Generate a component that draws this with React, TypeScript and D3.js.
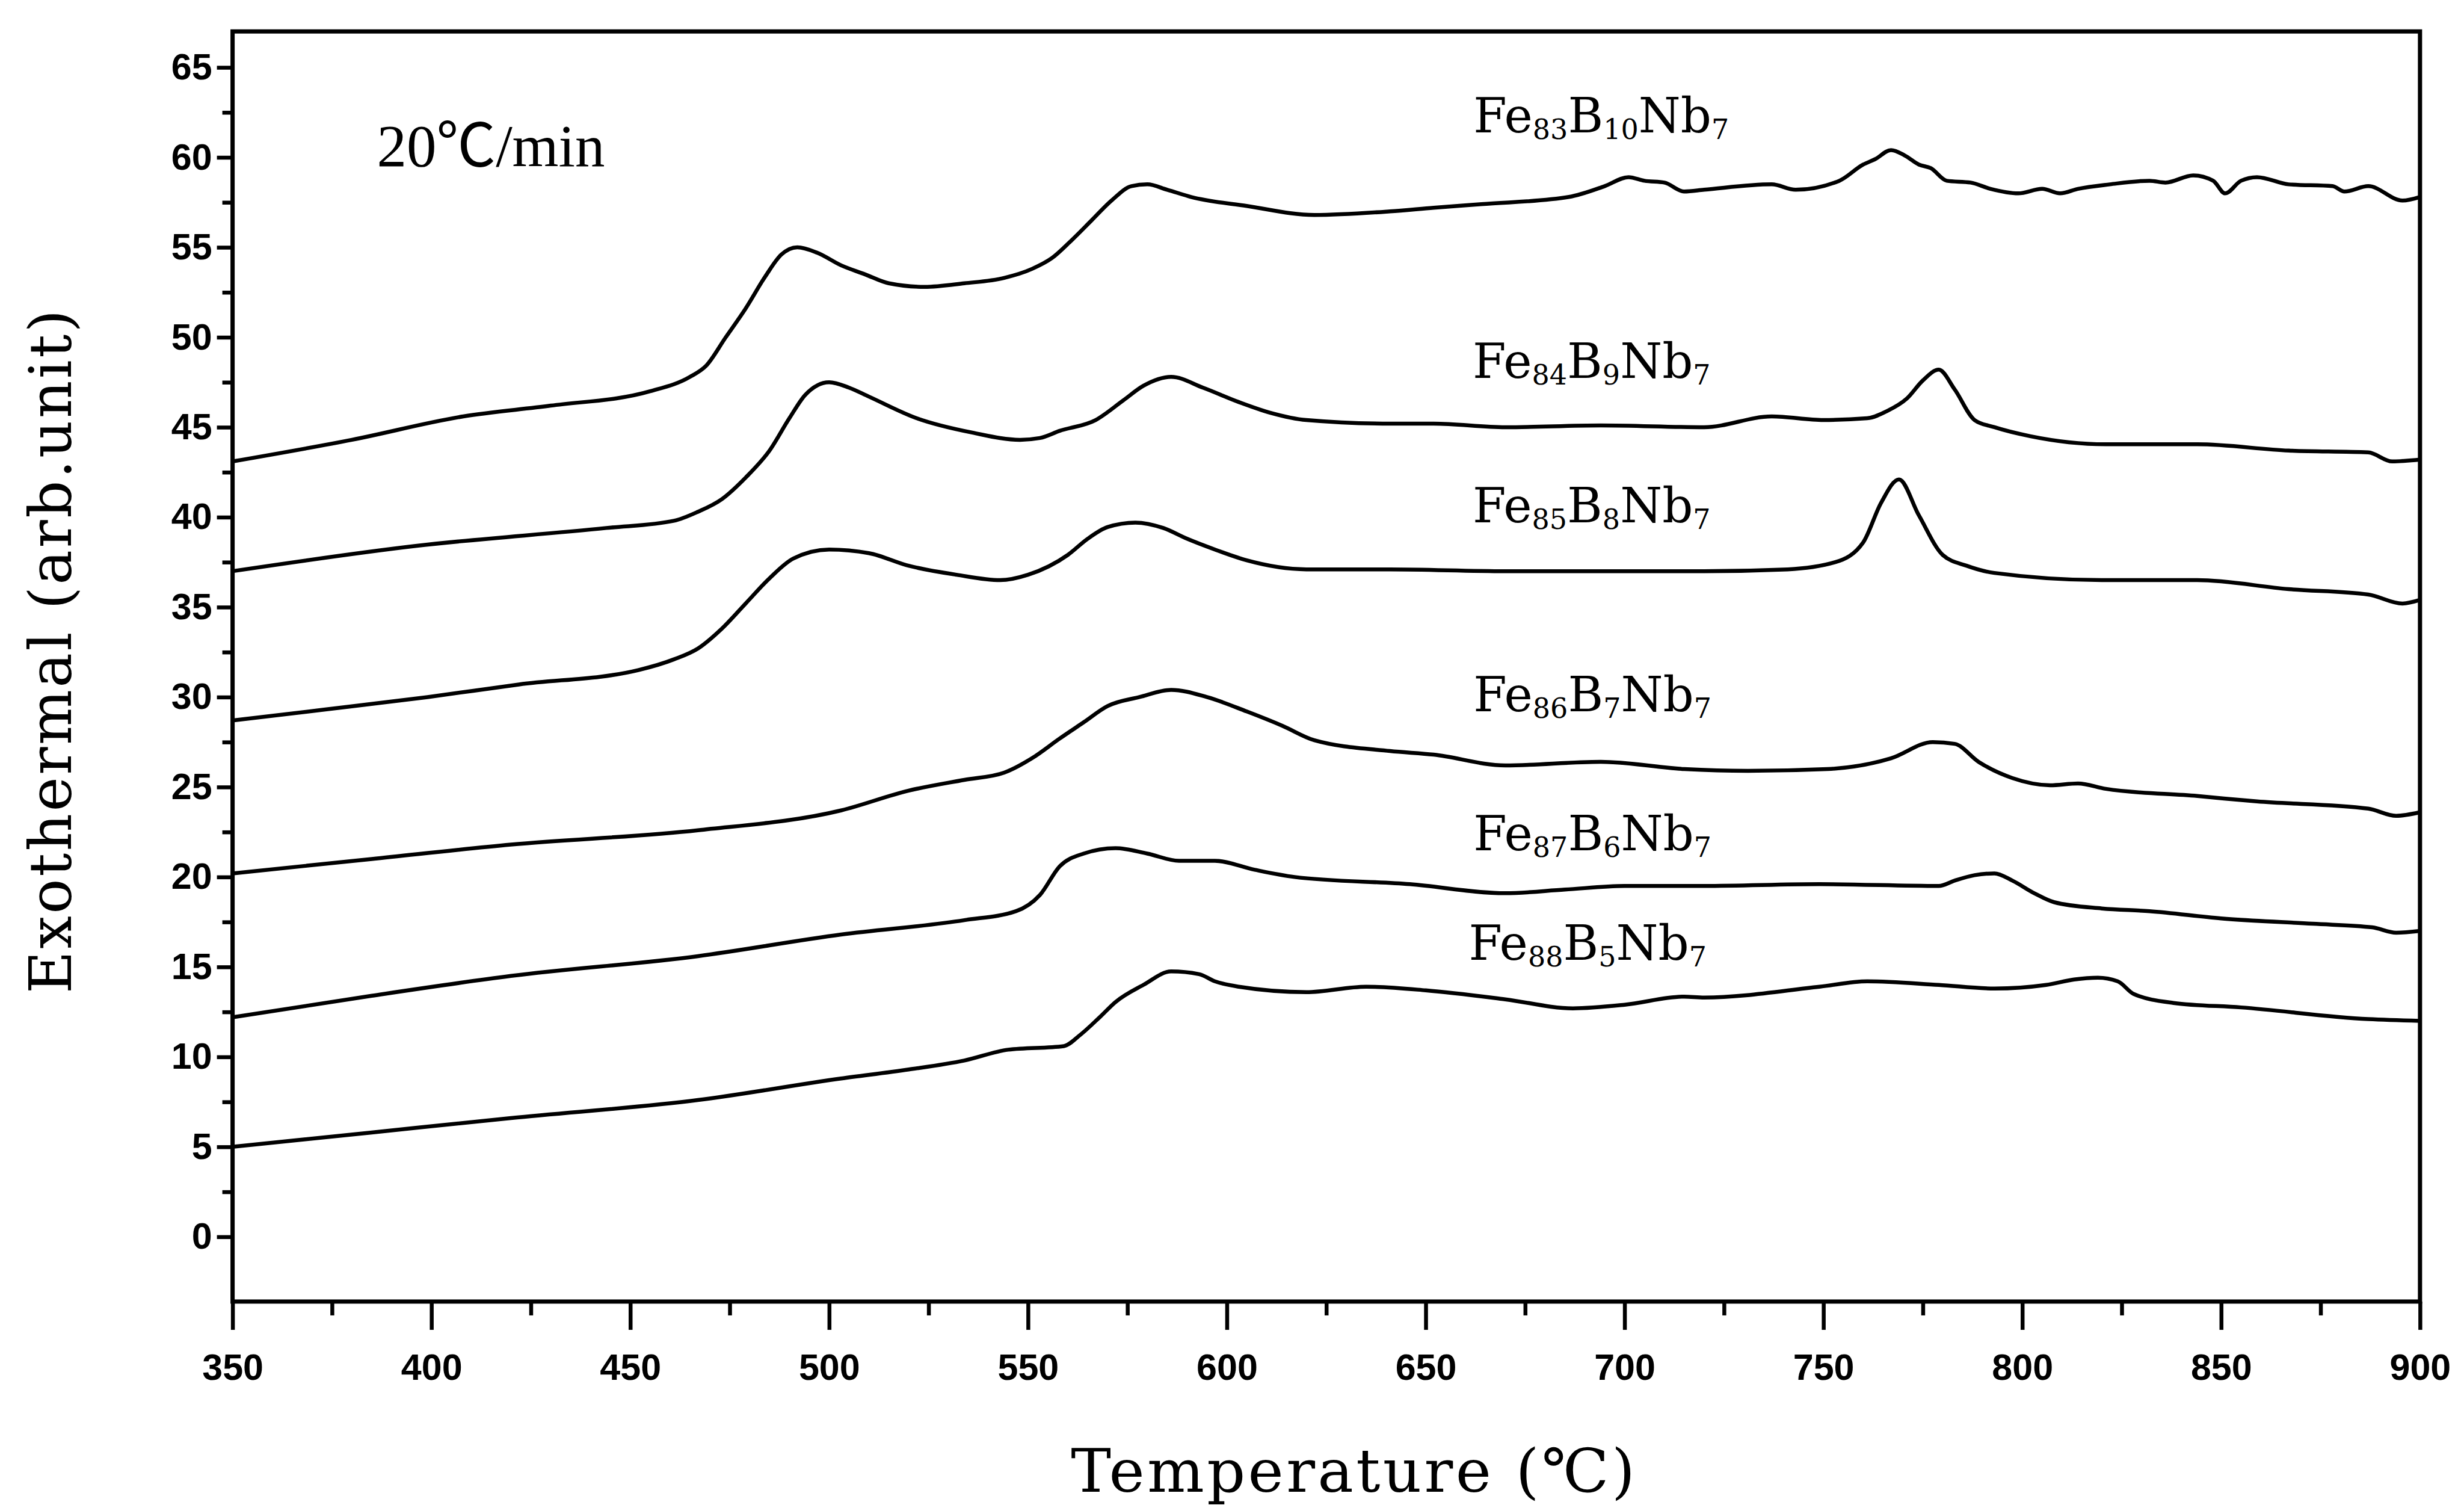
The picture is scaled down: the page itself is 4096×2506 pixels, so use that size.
import React, { useEffect, useRef } from 'react';
import * as d3 from 'd3';

// ---------- data (temperature °C, exothermal arb.unit) ----------
const fe83B10Nb7: [number, number][] = [
  [350, 43.1], [380, 44.3], [408, 45.6], [430, 46.2], [455, 47.0], [465, 47.8], [469, 48.4], [474, 50.0],
  [479, 51.6], [484, 53.4], [488, 54.6], [492, 55.0], [497, 54.7], [503, 54.0], [509, 53.5], [515, 53.0],
  [524, 52.8], [534, 53.0], [544, 53.3], [551, 53.8], [556, 54.4], [561, 55.4], [566, 56.5], [571, 57.6],
  [576, 58.4], [580, 58.5], [585, 58.2], [591, 57.8], [605, 57.3], [622, 56.8], [641, 57.0], [652, 57.2],
  [664, 57.4], [686, 57.8], [695, 58.4], [701, 58.9], [705, 58.7], [710, 58.6], [715, 58.1], [720, 58.2],
  [737, 58.5], [743, 58.2], [754, 58.7], [760, 59.6], [763, 59.9], [767, 60.4], [770.5, 60.1], [774, 59.6],
  [777, 59.4], [781, 58.7], [787, 58.6], [792, 58.25], [799, 58.0], [805, 58.25], [809.5, 58.0], [814, 58.25],
  [822, 58.5], [832, 58.7], [836, 58.6], [843, 59.0], [848, 58.7], [851, 58.0], [855, 58.7], [859, 58.9],
  [867, 58.5], [878, 58.4], [881, 58.1], [887, 58.4], [895.6, 57.6], [900, 57.8]
];
const fe84B9Nb7: [number, number][] = [
  [350, 37.0], [396, 38.4], [444, 39.4], [461, 39.8], [467, 40.3], [473, 41.0], [479, 42.2], [485, 43.7],
  [490, 45.5], [494, 46.8], [500, 47.5], [505, 47.2], [510, 46.7], [522, 45.5], [536, 44.7], [548, 44.3],
  [553, 44.4], [558, 44.8], [567, 45.4], [574, 46.5], [579, 47.3], [586, 47.8], [594, 47.2], [603, 46.4],
  [611, 45.8], [620, 45.4], [641, 45.2], [652, 45.2], [670, 45.0], [694, 45.1], [720, 45.0], [737, 45.6],
  [750, 45.4], [761, 45.5], [766, 45.9], [771, 46.6], [775, 47.6], [779, 48.2], [783, 47.1], [788, 45.4],
  [793, 45.0], [802, 44.5], [821, 44.05], [844, 44.05], [867, 43.7], [887, 43.6], [893, 43.1], [900, 43.2]
];
const fe85B8Nb7: [number, number][] = [
  [350, 28.7], [373, 29.3], [399, 30.0], [422, 30.7], [452, 31.5], [461, 32.1], [467, 32.7], [473, 33.8],
  [479, 35.2], [485, 36.6], [491, 37.7], [500, 38.2], [510, 38.0], [520, 37.3], [532, 36.8], [543, 36.5],
  [550, 36.8], [560, 37.9], [565, 38.8], [570, 39.45], [577, 39.7], [584, 39.4], [590, 38.8], [597, 38.2],
  [605, 37.6], [620, 37.1], [641, 37.1], [670, 37.0], [694, 37.0], [720, 37.0], [741, 37.1], [753, 37.5],
  [760, 38.6], [764.5, 40.8], [769, 42.1], [774, 40.1], [780, 37.9], [786, 37.3], [793, 36.9], [820, 36.5],
  [844, 36.5], [867, 36.0], [887, 35.7], [895.6, 35.2], [900, 35.4]
];
const fe86B7Nb7: [number, number][] = [
  [350, 20.2], [385, 21.0], [420, 21.8], [467, 22.6], [503, 23.7], [520, 24.8], [534, 25.4], [544, 25.8],
  [551, 26.6], [558, 27.7], [564, 28.6], [570, 29.5], [578, 30.0], [586, 30.4], [595, 30.0], [605, 29.2],
  [614, 28.4], [622, 27.6], [641, 27.0], [652, 26.8], [670, 26.2], [694, 26.4], [715, 26.0], [731, 25.9],
  [751, 26.0], [767, 26.6], [777.5, 27.5], [783, 27.4], [789, 26.4], [797.5, 25.5], [807, 25.1], [814, 25.2],
  [821, 24.9], [844, 24.5], [859, 24.2], [887, 23.8], [894, 23.4], [900, 23.6]
];
const fe87B6Nb7: [number, number][] = [
  [350, 12.2], [385, 13.4], [420, 14.5], [467, 15.6], [503, 16.8], [534, 17.6], [547, 18.1], [553, 19.0],
  [558, 20.6], [564, 21.3], [572, 21.6], [580, 21.3], [588, 20.9], [597, 20.9], [607, 20.4], [617, 20.0],
  [646, 19.6], [670, 19.1], [685, 19.3], [700, 19.5], [720, 19.5], [749, 19.6], [779, 19.5], [783, 19.8],
  [788, 20.1], [793, 20.2], [797.5, 19.8], [803, 19.1], [808, 18.6], [820, 18.25], [832, 18.1], [850, 17.7],
  [873, 17.4], [888, 17.2], [894, 16.9], [900, 17.0]
];
const fe88B5Nb7: [number, number][] = [
  [350, 5.0], [385, 5.8], [420, 6.6], [467, 7.6], [503, 8.8], [520, 9.3], [534, 9.8], [545, 10.4],
  [559, 10.6], [563, 11.2], [568, 12.2], [572, 13.05], [579, 14.0], [586, 14.75], [593, 14.6], [597, 14.2],
  [603, 13.9], [620, 13.6], [635, 13.9], [650, 13.7], [670, 13.2], [687, 12.7], [700, 12.9], [715, 13.35],
  [720, 13.3], [749, 13.9], [761, 14.2], [779, 14.0], [793, 13.8], [806, 14.0], [813, 14.3], [819, 14.4],
  [824, 14.2], [828, 13.5], [838, 13.0], [855, 12.75], [887, 12.1], [900, 12.0]
];

const seriesData = [fe83B10Nb7, fe84B9Nb7, fe85B8Nb7, fe86B7Nb7, fe87B6Nb7, fe88B5Nb7];

// label text parts: [text, isSubscript]
const seriesLabels: [string, boolean][][] = [
  [['Fe', false], ['83', true], ['B', false], ['10', true], ['Nb', false], ['7', true]],
  [['Fe', false], ['84', true], ['B', false], ['9', true], ['Nb', false], ['7', true]],
  [['Fe', false], ['85', true], ['B', false], ['8', true], ['Nb', false], ['7', true]],
  [['Fe', false], ['86', true], ['B', false], ['7', true], ['Nb', false], ['7', true]],
  [['Fe', false], ['87', true], ['B', false], ['6', true], ['Nb', false], ['7', true]],
  [['Fe', false], ['88', true], ['B', false], ['5', true], ['Nb', false], ['7', true]],
];
// label anchor in data coordinates (left, baseline)
const labelAnchors: [number, number][] = [
  [662, 61.4], [661.8, 47.75], [661.8, 39.7], [662, 29.2], [662, 21.5], [660.8, 15.4]
];

const xMajorTicks = [350, 400, 450, 500, 550, 600, 650, 700, 750, 800, 850, 900];
const xMinorTicks = [375, 425, 475, 525, 575, 625, 675, 725, 775, 825, 875];
const yMajorTicks = [0, 5, 10, 15, 20, 25, 30, 35, 40, 45, 50, 55, 60, 65];
const yMinorTicks = [2.5, 7.5, 12.5, 17.5, 22.5, 27.5, 32.5, 37.5, 42.5, 47.5, 52.5, 57.5, 62.5];

const xTitle = 'Temperature (℃)';
const yTitle = 'Exothermal (arb.unit)';
const rateText = '20℃/min';

// ---------- layout ----------
const W = 4096;
const H = 2506;
const S = W / 1568;

export default function App() {
  const gxMajor = useRef<SVGGElement>(null);
  const gxMinor = useRef<SVGGElement>(null);
  const gyMajor = useRef<SVGGElement>(null);
  const gyMinor = useRef<SVGGElement>(null);

  const x = d3.scaleLinear().domain([350, 900]).range([148 * S, 1540 * S]);
  const y = d3.scaleLinear().domain([-3.6, 67]).range([828 * S, 20 * S]);

  const line = d3
    .line<[number, number]>()
    .x((d) => x(d[0]))
    .y((d) => y(d[1]))
    .curve(d3.curveMonotoneX);

  const tickFont = "'Liberation Sans', Arial, sans-serif";

  useEffect(() => {
    const style = (sel: d3.Selection<SVGGElement, unknown, null, undefined>) => {
      sel.select('.domain').remove();
      sel.selectAll('line').attr('stroke', '#000').attr('stroke-width', 6.5);
      sel
        .selectAll('text')
        .attr('fill', '#000')
        .attr('font-family', tickFont)
        .attr('font-weight', 'bold')
        .attr('font-size', 61);
    };
    if (gxMajor.current) {
      const g = d3.select(gxMajor.current);
      g.call(d3.axisBottom(x).tickValues(xMajorTicks).tickSize(47).tickPadding(40).tickFormat(d3.format('d')) as any);
      style(g as any);
    }
    if (gxMinor.current) {
      const g = d3.select(gxMinor.current);
      g.call(d3.axisBottom(x).tickValues(xMinorTicks).tickSize(23).tickFormat(() => '') as any);
      style(g as any);
    }
    if (gyMajor.current) {
      const g = d3.select(gyMajor.current);
      g.call(d3.axisLeft(y).tickValues(yMajorTicks).tickSize(26).tickPadding(8).tickFormat(d3.format('d')) as any);
      style(g as any);
    }
    if (gyMinor.current) {
      const g = d3.select(gyMinor.current);
      g.call(d3.axisLeft(y).tickValues(yMinorTicks).tickSize(17).tickFormat(() => '') as any);
      style(g as any);
    }
  }, []);

  const [x0, x1] = x.range();
  const [yb, yt] = y.range();

  const mainSize = 80;
  const subSize = 46;
  const subShift = 11;

  return (
    <svg
      width={W}
      height={H}
      viewBox={`0 0 ${W} ${H}`}
      style={{ position: 'absolute', left: 0, top: 0, background: '#fff' }}
    >
      <rect x={0} y={0} width={W} height={H} fill="#fff" />
      {/* curves */}
      {seriesData.map((d, i) => (
        <path key={i} d={line(d) || ''} fill="none" stroke="#000" strokeWidth={6.5} strokeLinejoin="round" />
      ))}
      {/* frame */}
      <rect x={x0} y={yt} width={x1 - x0} height={yb - yt} fill="none" stroke="#000" strokeWidth={7} />
      <g ref={gxMajor} transform={`translate(0,${yb})`} />
      <g ref={gxMinor} transform={`translate(0,${yb})`} />
      <g ref={gyMajor} transform={`translate(${x0},0)`} />
      <g ref={gyMinor} transform={`translate(${x0},0)`} />

      {/* series labels */}
      {seriesLabels.map((parts, i) => {
        let shifted = false;
        return (
          <text
            key={i}
            x={x(labelAnchors[i][0])}
            y={y(labelAnchors[i][1])}
            fontFamily="'DejaVu Serif', serif"
            fontSize={mainSize}
            fill="#000"
          >
            {parts.map(([t, sub], j) => {
              let dy = 0;
              if (sub && !shifted) {
                dy = subShift;
                shifted = true;
              } else if (!sub && shifted) {
                dy = -subShift;
                shifted = false;
              }
              return (
                <tspan key={j} dy={dy} fontSize={sub ? subSize : mainSize}>
                  {t}
                </tspan>
              );
            })}
          </text>
        );
      })}

      {/* heating rate */}
      <text
        x={x(386.3)}
        y={y(59.5)}
        fontFamily="'Liberation Serif', 'Noto Sans CJK JP', serif"
        fontSize={99}
        fill="#000"
        textLength={145 * S}
        lengthAdjust="spacing"
      >
        {rateText}
      </text>

      {/* axis titles */}
      <text
        x={861 * S}
        y={949 * S}
        textAnchor="middle"
        fontFamily="'DejaVu Serif', serif"
        fontSize={100}
        fill="#000"
        textLength={359 * S}
        lengthAdjust="spacing"
      >
        {xTitle}
      </text>
      <text
        transform={`translate(${45 * S},${414.5 * S}) rotate(-90)`}
        textAnchor="middle"
        fontFamily="'DejaVu Serif', serif"
        fontSize={97}
        fill="#000"
        textLength={435 * S}
        lengthAdjust="spacing"
      >
        {yTitle}
      </text>
    </svg>
  );
}
